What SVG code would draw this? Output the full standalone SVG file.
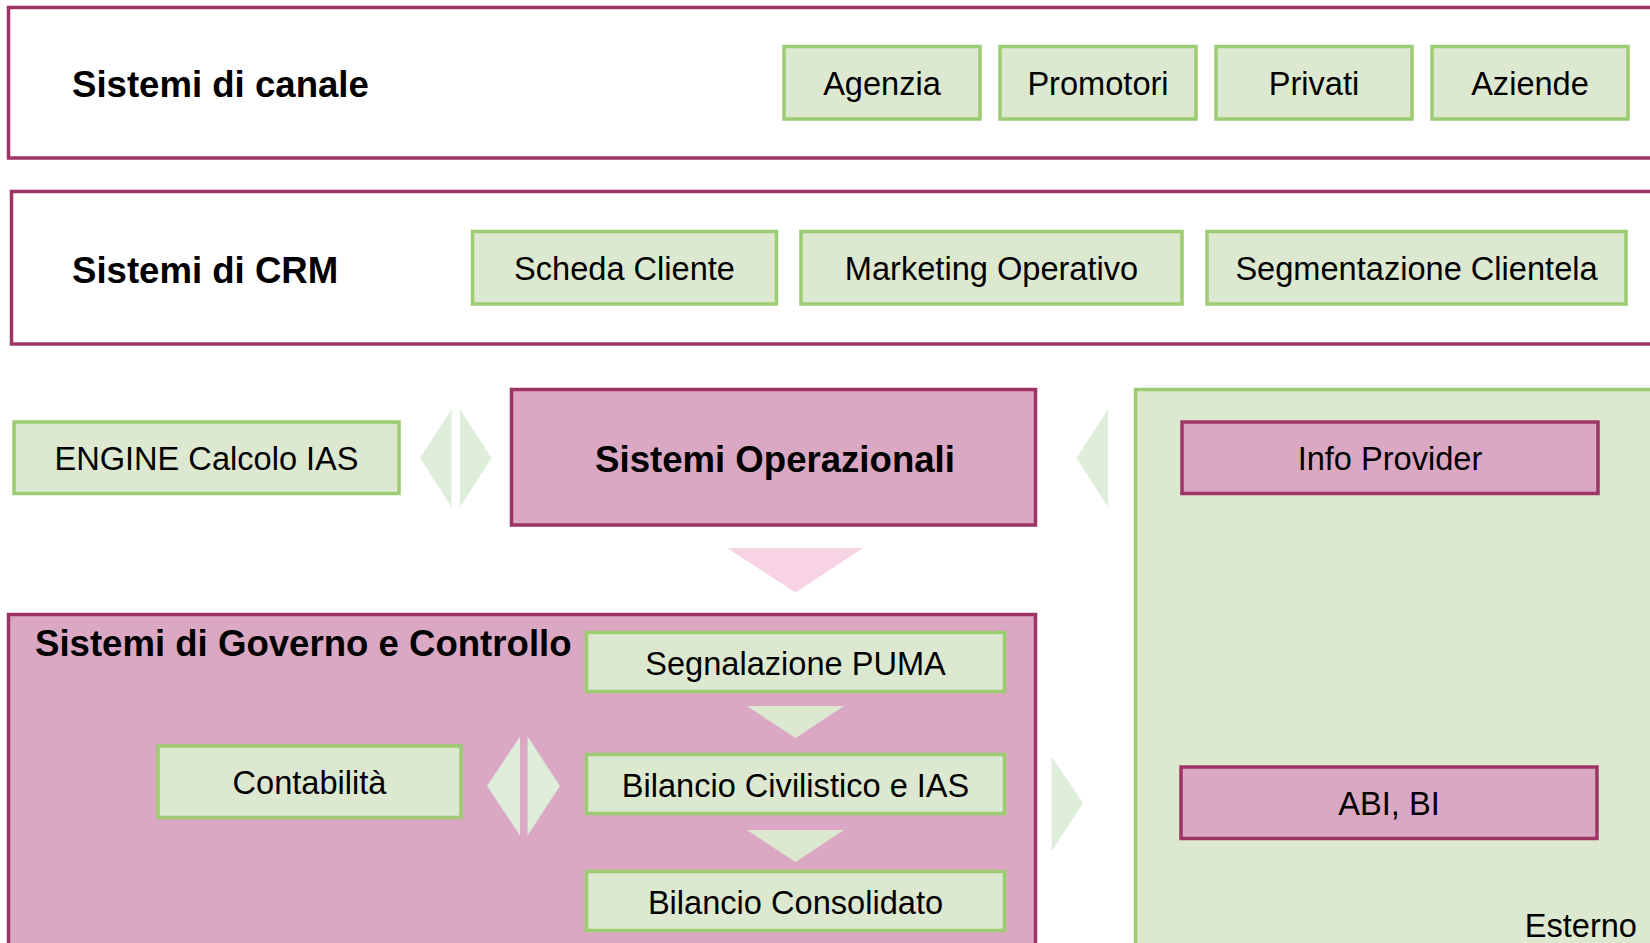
<svg xmlns="http://www.w3.org/2000/svg" width="1650" height="943" viewBox="0 0 1650 943">
<style>
.bg{fill:#ffffff}
.frame{fill:#ffffff;stroke:#9E3466;stroke-width:3.5}
.pink{fill:#DBA8C3;stroke:#9E3466;stroke-width:3.5}
.ext{fill:#DCE8D0;stroke:#9CCB72;stroke-width:3.5}
.green{fill:#DCE8D0;stroke:#9CCB72;stroke-width:3.5}
.title{font-family:"Liberation Sans",Arial,sans-serif;font-weight:bold;font-size:36.6px;fill:#000}
.lbl{font-family:"Liberation Sans",Arial,sans-serif;font-size:32.6px;fill:#000;text-anchor:middle}
.arr{fill:#DEEEDA}
.arrp{fill:#F8D3E4}
</style>
<rect class="bg" x="0" y="0" width="1650" height="943"/>

<g id="canale">
<rect class="frame" x="8.5" y="7.5" width="1660" height="150.5"/>
<text class="title" x="72" y="97">Sistemi di canale</text>
</g>
<g id="agenzia"><rect class="green" x="784" y="46.5" width="196" height="72.5"/><text class="lbl" x="882" y="95">Agenzia</text></g>
<g id="promotori"><rect class="green" x="1000" y="46.5" width="196" height="72.5"/><text class="lbl" x="1098" y="95">Promotori</text></g>
<g id="privati"><rect class="green" x="1216" y="46.5" width="196" height="72.5"/><text class="lbl" x="1314" y="95">Privati</text></g>
<g id="aziende"><rect class="green" x="1432" y="46.5" width="196" height="72.5"/><text class="lbl" x="1530" y="95">Aziende</text></g>

<g id="crm">
<rect class="frame" x="11.5" y="191.5" width="1660" height="152.5"/>
<text class="title" x="72" y="283">Sistemi di CRM</text>
</g>
<g id="scheda"><rect class="green" x="472.5" y="231.5" width="304" height="72.5"/><text class="lbl" x="624.5" y="280">Scheda Cliente</text></g>
<g id="marketing"><rect class="green" x="801" y="231.5" width="381" height="72.5"/><text class="lbl" x="991.5" y="280">Marketing Operativo</text></g>
<g id="segmentazione"><rect class="green" x="1207" y="231.5" width="419" height="72.5"/><text class="lbl" x="1416.5" y="280">Segmentazione Clientela</text></g>

<g id="esterno">
<rect class="ext" x="1135.5" y="389.5" width="540" height="600"/>
<text class="lbl" x="1637" y="937" style="text-anchor:end">Esterno</text>
</g>
<g id="infoprovider"><rect class="pink" x="1182" y="422" width="416" height="71.5"/><text class="lbl" x="1390" y="470">Info Provider</text></g>
<g id="abibi"><rect class="pink" x="1181" y="767" width="416" height="71.5"/><text class="lbl" x="1389" y="815">ABI, BI</text></g>

<g id="engine"><rect class="green" x="14" y="422" width="385" height="71.5"/><text class="lbl" x="206.5" y="470">ENGINE Calcolo IAS</text></g>

<g id="operazionali">
<rect class="pink" x="511.5" y="389.5" width="524" height="135.5"/>
<text class="title" x="775" y="472" style="text-anchor:middle">Sistemi Operazionali</text>
</g>

<g id="governo">
<rect class="pink" x="8.5" y="614.5" width="1027" height="360"/>
<text class="title" x="35" y="656">Sistemi di Governo e Controllo</text>
</g>
<g id="puma"><rect class="green" x="586.5" y="632.5" width="418" height="59"/><text class="lbl" x="795.5" y="674.5">Segnalazione PUMA</text></g>
<g id="civilistico"><rect class="green" x="586.5" y="754.5" width="418" height="59"/><text class="lbl" x="795.5" y="797">Bilancio Civilistico e IAS</text></g>
<g id="consolidato"><rect class="green" x="586.5" y="871.5" width="418" height="59"/><text class="lbl" x="795.5" y="914">Bilancio Consolidato</text></g>
<g id="contabilita"><rect class="green" x="158" y="746" width="303" height="71.5"/><text class="lbl" x="309.5" y="794">Contabilità</text></g>

<g id="connectors">
<polygon class="arr" points="420,458 451.5,409.5 451.5,507"/>
<polygon class="arr" points="460,409.5 491.5,458 460,507"/>
<polygon class="arr" points="1076.5,458 1108,409.5 1108,507"/>
<polygon class="arrp" points="727,548 863,548 795.5,592.5"/>
<polygon class="arr" points="747,706 844,706 795.5,738" style="fill:#DCE8D0"/>
<polygon class="arr" points="747,830 844,830 795.5,862" style="fill:#DCE8D0"/>
<polygon class="arr" points="487,786 520,736.5 520,835.5"/>
<polygon class="arr" points="527.5,736.5 560,786 527.5,835.5"/>
<polygon class="arr" points="1051.5,756.5 1083,803 1051.5,851.5"/>
</g>
</svg>
